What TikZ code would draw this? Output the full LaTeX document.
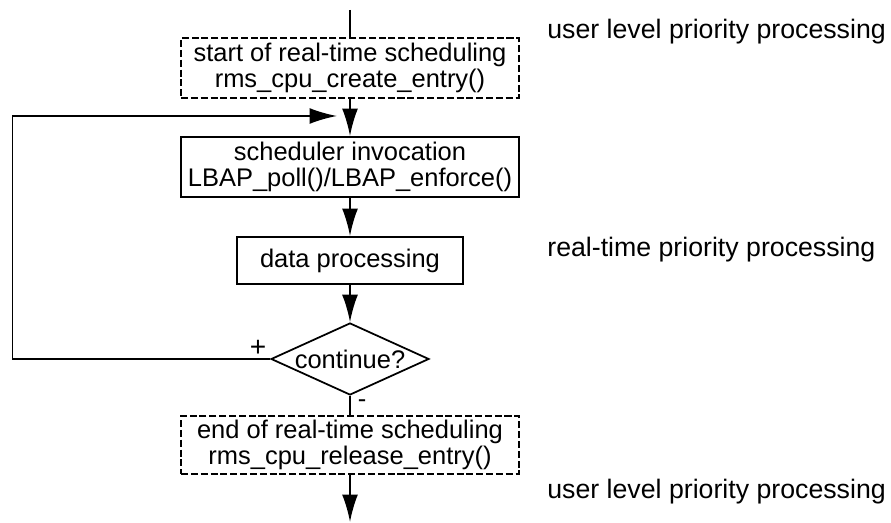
\documentclass[tikz,border=0pt]{standalone}
\usepackage{fontspec}
\setmainfont{Liberation Sans}
\usetikzlibrary{shapes.geometric,arrows.meta}

\tikzset{
    stepbox/.style={draw, line width=1.1pt, minimum width=6.76cm, minimum height=1.2cm,
        align=center, inner sep=0pt},
    dashbox/.style={stepbox, line width=1pt, dash pattern=on 4pt off 1.6pt},
    decision/.style={draw, diamond, aspect=2.2, inner sep=0pt, line width=1pt,
        minimum width=3.16cm, minimum height=1.44cm},
    sidelabel/.style={anchor=west, inner sep=0pt, font=\fontsize{15.2}{15.2}\selectfont},
    flow/.style={line width=1.1pt, -{Latex[length=0.55cm,width=0.32cm]}}
}

\begin{document}
\begin{tikzpicture}[x=0.02cm, y=0.02cm, font=\fontsize{14.5}{14.5}\selectfont]

\useasboundingbox (0,0) rectangle (891,523);

% ----------------------------------------------------------
% Flow chart boxes
% ----------------------------------------------------------
\node[dashbox] (start) at (350,455) {start of real-time scheduling\\rms\_cpu\_create\_entry()};
\node[stepbox] (sched) at (350,356) {scheduler invocation\\LBAP\_poll()/LBAP\_enforce()};
\node[stepbox, minimum width=4.52cm, minimum height=0.94cm] (data) at (350,262.5) {data processing};
\node[decision] (cont) at (350,164) {continue?};
\node[dashbox, minimum height=1.16cm] (stop) at (350,78) {end of real-time scheduling\\rms\_cpu\_release\_entry()};

% ----------------------------------------------------------
% Loose ends of the flow
% ----------------------------------------------------------
\coordinate (enter) at (350,513);
\coordinate (leave) at (350,1);
\coordinate (loopcorner) at (12.5,164);
\coordinate (back) at (337,407);

% ----------------------------------------------------------
% Connectors
% ----------------------------------------------------------
\draw[line width=1.1pt] (enter) -- (start.north);
\draw[flow] (start.south) -- (sched.north);
\draw[flow] (sched.south) -- (data.north);
\draw[flow] (data.south) -- (cont.north);
\draw[line width=1.1pt] (cont.south) -- (stop.north);
\draw[flow] (stop.south) -- (leave);
\draw[flow] (cont.west) -- (loopcorner) |- (back);

\node[font=\fontsize{16}{16}\selectfont] (plus) at (258,175) {+};
\node (minus) at (362,119) {-};

% ----------------------------------------------------------
% Priority levels
% ----------------------------------------------------------
\node[sidelabel] (usertop) at (547,491) {user level priority processing};
\node[sidelabel] (realtime) at (547,273) {real-time priority processing};
\node[sidelabel] (userbottom) at (547,31) {user level priority processing};

\end{tikzpicture}
\end{document}
